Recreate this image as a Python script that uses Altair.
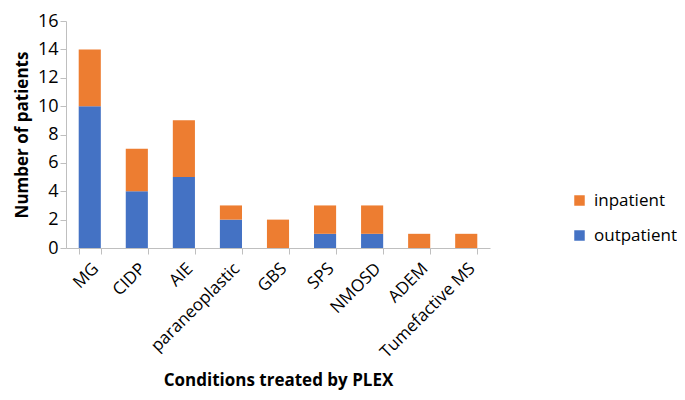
import altair as alt
import pandas as pd

conditions = ["MG", "CIDP", "AIE", "paraneoplastic", "GBS", "SPS", "NMOSD", "ADEM", "Tumefactive MS"]
outpatient = [10, 4, 5, 2, 0, 1, 1, 0, 0]
inpatient = [4, 3, 4, 1, 2, 2, 2, 1, 1]

rows = []
for c, o, i in zip(conditions, outpatient, inpatient):
    rows.append({"condition": c, "setting": "outpatient", "count": o, "ord": 0})
    rows.append({"condition": c, "setting": "inpatient", "count": i, "ord": 1})
df = pd.DataFrame(rows)

FONT = "Open Sans"

chart = alt.Chart(df).mark_bar().encode(
    x=alt.X("condition:N", sort=conditions, title="Conditions treated by PLEX",
            scale=alt.Scale(paddingInner=0.53, paddingOuter=0.27),
            axis=alt.Axis(labelAngle=-45, labelFontSize=17, labelFont=FONT, labelColor="#000",
                          titleFontSize=17, titleFont=FONT, titleFontWeight="bold", titleColor="#000",
                          titlePadding=12, domainColor="#bfbfbf", tickColor="#bfbfbf",
                          tickBand="extent", tickSize=6, labelPadding=6)),
    y=alt.Y("count:Q", title="Number of patients",
            scale=alt.Scale(domain=[0, 16]),
            axis=alt.Axis(values=list(range(0, 17, 2)), grid=False, labelFontSize=18, labelFont=FONT,
                          labelColor="#000", titleFontSize=17, titleFont=FONT, titleFontWeight="bold",
                          titleColor="#000", domainColor="#bfbfbf", tickColor="#bfbfbf", tickSize=6,
                          titlePadding=6)),
    color=alt.Color("setting:N",
                    scale=alt.Scale(domain=["inpatient", "outpatient"], range=["#ED7D31", "#4472C4"]),
                    legend=alt.Legend(title=None, orient="none", legendX=505, legendY=171,
                                      labelFontSize=17, labelFont=FONT, labelColor="#000",
                                      symbolType="square", symbolSize=110, rowPadding=17,
                                      symbolStrokeWidth=0, labelOffset=6)),
    order=alt.Order("ord:Q"),
).properties(width=424, height=227, autosize=alt.AutoSizeParams(type="none"),
             padding={"left": 58, "top": 13, "right": 187, "bottom": 144}).configure_view(stroke=None)

chart.save("out.html", embed_options={"renderer": "svg", "actions": False})
